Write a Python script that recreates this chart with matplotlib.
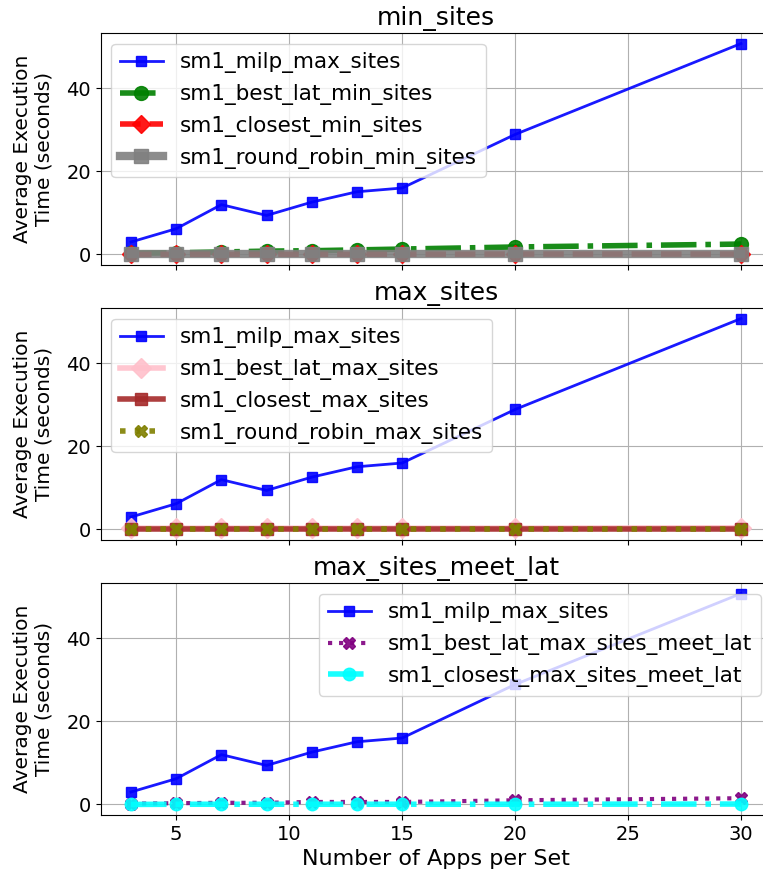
import matplotlib
matplotlib.use("Agg")
import matplotlib.pyplot as plt
from matplotlib.ticker import MultipleLocator

apps = [3, 5, 7, 9, 11, 13, 15, 20, 30]

milp_max_sites = [3.0, 6.2, 12.0, 9.4, 12.6, 15.1, 16.0, 28.9, 50.8]

best_lat_min_sites = [0.3, 0.4, 0.6, 0.8, 0.9, 1.1, 1.3, 1.8, 2.5]
closest_min_sites = [0.0, 0.05, 0.05, 0.05, 0.05, 0.05, 0.05, 0.1, 0.1]
round_robin_min_sites = [0.0, 0.0, 0.0, 0.0, 0.0, 0.0, 0.0, 0.0, 0.0]

best_lat_max_sites = [0.3, 0.3, 0.3, 0.3, 0.3, 0.3, 0.3, 0.3, 0.4]
closest_max_sites = [0.1, 0.1, 0.1, 0.1, 0.1, 0.1, 0.1, 0.1, 0.1]
round_robin_max_sites = [0.0, 0.0, 0.0, 0.0, 0.0, 0.0, 0.0, 0.0, 0.0]

best_lat_meet_lat = [0.2, 0.3, 0.4, 0.4, 0.6, 0.6, 0.6, 1.0, 1.5]
closest_meet_lat = [0.0, 0.05, 0.05, 0.05, 0.05, 0.05, 0.05, 0.05, 0.1]

titles = ["min_sites", "max_sites", "max_sites_meet_lat"]

fig = plt.figure(figsize=(7.63, 8.75), dpi=100)
left, width, height = 100.5 / 763, 671 / 763, 232 / 875
bottoms = [1 - 265 / 875, 1 - 540 / 875, 1 - 815 / 875]
axes = []
for i, b in enumerate(bottoms):
    ax = fig.add_axes([left, b, width, height], sharex=axes[0] if axes else None)
    axes.append(ax)

milp_kw = dict(color="blue", linestyle="-", marker="s", linewidth=2, markersize=7, alpha=0.9)

# panel 1
ax = axes[0]
ax.plot(apps, milp_max_sites, label="sm1_milp_max_sites", **milp_kw)
ax.plot(apps, best_lat_min_sites, label="sm1_best_lat_min_sites", color="green",
        linestyle="-.", marker="o", linewidth=4, markersize=10, alpha=0.9)
ax.plot(apps, closest_min_sites, label="sm1_closest_min_sites", color="red",
        linestyle="--", marker="D", linewidth=4, markersize=9, alpha=0.9)
ax.plot(apps, round_robin_min_sites, label="sm1_round_robin_min_sites", color="gray",
        linestyle="-", marker="s", linewidth=6, markersize=10, alpha=0.9)
ax.legend(loc="upper left", fontsize=15.5)

# panel 2
ax = axes[1]
ax.plot(apps, milp_max_sites, label="sm1_milp_max_sites", **milp_kw)
ax.plot(apps, best_lat_max_sites, label="sm1_best_lat_max_sites", color="pink",
        linestyle="-", marker="D", linewidth=4, markersize=10, alpha=0.9)
ax.plot(apps, closest_max_sites, label="sm1_closest_max_sites", color="brown",
        linestyle="-", marker="s", linewidth=4, markersize=8, alpha=0.9)
ax.plot(apps, round_robin_max_sites, label="sm1_round_robin_max_sites", color="olive",
        linestyle=":", marker="X", linewidth=4, markersize=9, alpha=0.9)
ax.legend(loc="upper left", fontsize=15.5)

# panel 3
ax = axes[2]
ax.plot(apps, milp_max_sites, label="sm1_milp_max_sites", **milp_kw)
ax.plot(apps, best_lat_meet_lat, label="sm1_best_lat_max_sites_meet_lat", color="purple",
        linestyle=":", marker="X", linewidth=3, markersize=9, alpha=0.9)
ax.plot(apps, closest_meet_lat, label="sm1_closest_max_sites_meet_lat", color="cyan",
        linestyle="-.", marker="o", linewidth=4, markersize=9, alpha=0.9)
ax.legend(loc="upper right", fontsize=15.5)

for i, ax in enumerate(axes):
    ax.set_title(titles[i], fontsize=18)
    ax.set_ylabel("Average Execution\nTime (seconds)", fontsize=14.5, labelpad=9)
    ax.grid(True)
    ax.yaxis.set_major_locator(MultipleLocator(20))
    ax.tick_params(labelsize=14)
    ax.spines["right"].set_visible(False)
    if i < 2:
        ax.tick_params(labelbottom=False)
axes[2].set_xlabel("Number of Apps per Set", fontsize=16)

fig.savefig("out.png", dpi=100)
